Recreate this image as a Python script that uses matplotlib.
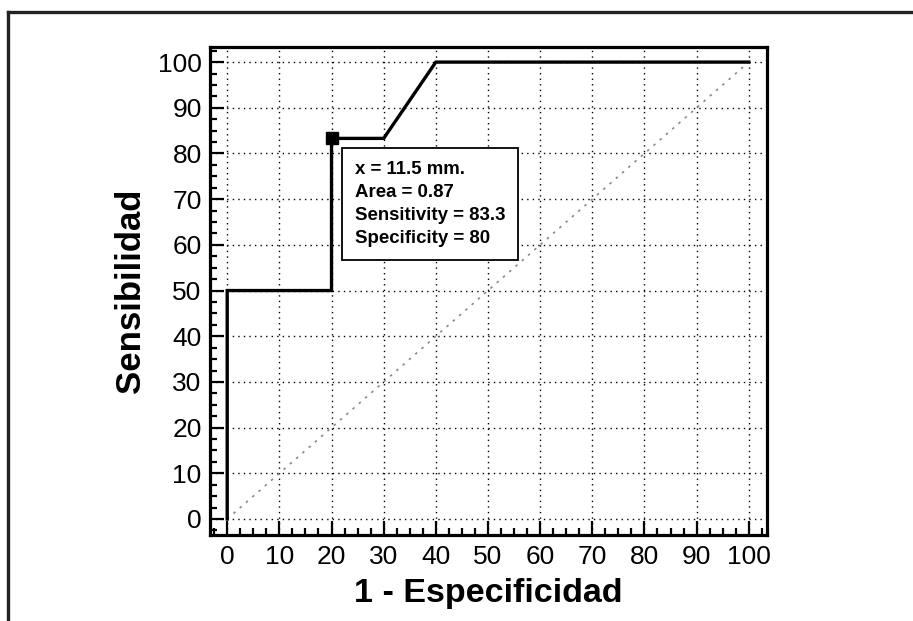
import matplotlib
matplotlib.use("Agg")
import matplotlib.pyplot as plt
from matplotlib.lines import Line2D
from matplotlib.ticker import MultipleLocator

plt.rcParams['font.family'] = ['Liberation Sans', 'DejaVu Sans']

# ROC curve points (1 - specificity, sensitivity)
fpr = [0, 0, 20, 20, 30, 40, 100]
tpr = [0, 50, 50, 83.3, 83.3, 100, 100]
cut_x, cut_y = 20, 83.3
diag = [0, 100]
info_lines = ["x = 11.5 mm.", "Area = 0.87", "Sensitivity = 83.3", "Specificity = 80"]
ticks = list(range(0, 101, 10))

fig = plt.figure(figsize=(9.13, 6.21), dpi=100)
ax = fig.add_axes([0.2300, 0.1385, 0.6101, 0.7858])

ax.set_xlim(-3.3, 103.5)
ax.set_ylim(-3.5, 103.3)

ax.grid(True, which='major', color='black', linestyle=(0, (1, 3)), linewidth=1.0)
ax.plot(diag, diag, color='#888888', linestyle=(0, (1.5, 3.5)), linewidth=1.2)
ax.plot(fpr, tpr, color='black', linewidth=2.4, solid_joinstyle='miter')
ax.plot([cut_x], [cut_y], marker='s', color='black', markersize=9)

ax.set_xticks(ticks)
ax.set_yticks(ticks)
ax.xaxis.set_minor_locator(MultipleLocator(2.5))
ax.yaxis.set_minor_locator(MultipleLocator(2.5))
ax.tick_params(which='major', direction='in', length=10, width=1.6,
               labelsize=19, top=False, right=False)
ax.tick_params(which='minor', direction='in', length=5, width=1.6,
               top=False, right=False)
ax.tick_params(axis='x', pad=7)
ax.tick_params(axis='y', pad=6)

for s in ax.spines.values():
    s.set_linewidth(2.3)

ax.set_xlabel("1 - Especificidad", fontsize=24.5, fontweight='bold', labelpad=7)
ax.set_ylabel("Sensibilidad", fontsize=25, fontweight='bold', labelpad=8)

ax.text(0.260, 0.766, "\n".join(info_lines), transform=ax.transAxes,
        fontsize=13.4, fontweight='bold', va='top', ha='left', linespacing=1.45,
        bbox=dict(boxstyle='square,pad=0.7', facecolor='white', edgecolor='black',
                  linewidth=1.3), zorder=5)

# outer frame (top and left edges visible)
fig.add_artist(Line2D([0.0088, 1.0], [0.9807, 0.9807], color='#222222', linewidth=2.4,
                      transform=fig.transFigure))
fig.add_artist(Line2D([0.0088, 0.0088], [0.0, 0.9807], color='#222222', linewidth=2.4,
                      transform=fig.transFigure))

fig.savefig("out.png", dpi=100)
